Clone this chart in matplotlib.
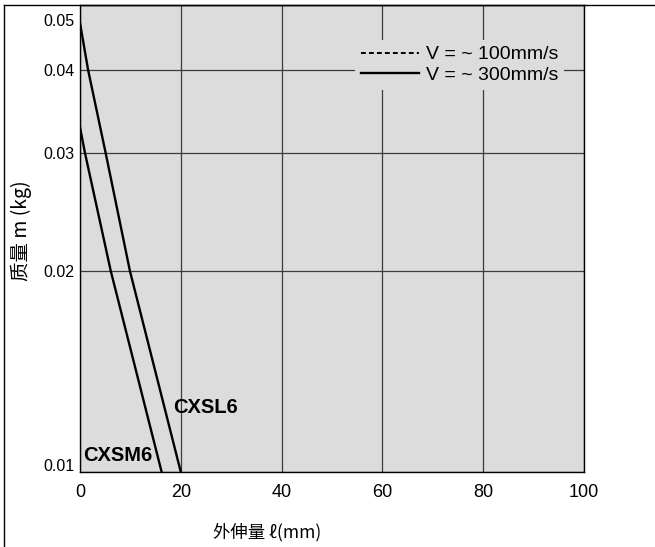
import matplotlib
matplotlib.use("Agg")
import matplotlib.pyplot as plt
import matplotlib.transforms as mtransforms
from matplotlib.lines import Line2D

plt.rcParams['font.family'] = ['Liberation Sans', 'Noto Sans CJK SC', 'DejaVu Sans']

# data
cxsl6_extension = [0, 1.6, 5.1, 9.9, 20.0]
cxsl6_mass = [0.047, 0.04, 0.03, 0.02, 0.01]
cxsm6_extension = [0, 1.0, 6.1, 16.2]
cxsm6_mass = [0.0328, 0.03, 0.02, 0.01]

y_ticks = [0.01, 0.02, 0.03, 0.04, 0.05]
y_tick_labels = ["0.01", "0.02", "0.03", "0.04", "0.05"]
x_ticks = [0, 20, 40, 60, 80, 100]
legend_labels = ["V = ~ 100mm/s", "V = ~ 300mm/s"]

bg_gray = "#dcdcdc"
grid_col = "#3c3c3c"

fig = plt.figure(figsize=(6.55, 5.47), dpi=100)
ax = fig.add_axes([80 / 655, 1 - 472 / 547, 504 / 655, 467 / 547])
ax.set_facecolor(bg_gray)

ax.plot(cxsl6_extension, cxsl6_mass, color="black", lw=1.7, zorder=3)
ax.plot(cxsm6_extension, cxsm6_mass, color="black", lw=1.7, zorder=3)

ax.set_yscale("log")
ax.set_xlim(0, 100)
ax.set_ylim(0.01, 0.05)
ax.set_yticks(y_ticks)
ax.set_yticklabels(y_tick_labels)
ax.minorticks_off()
ax.set_xticks(x_ticks)
ax.tick_params(axis="both", length=0)
ax.tick_params(axis="x", pad=8.5, labelsize=13)
ax.tick_params(axis="y", pad=4, labelsize=11.5)
ax.grid(True, color=grid_col, lw=0.9)
ax.set_axisbelow(True)
for s in ax.spines.values():
    s.set_color("black")
    s.set_linewidth(1.0)

# shift bottom and top y labels inside the axis range
labels = ax.get_yticklabels()
labels[0].set_transform(labels[0].get_transform() +
                        mtransforms.ScaledTranslation(0, 5 / 72, fig.dpi_scale_trans))
labels[-1].set_transform(labels[-1].get_transform() +
                         mtransforms.ScaledTranslation(0, -11 / 72, fig.dpi_scale_trans))

ax.text(18.4, 0.0125, "CXSL6", fontsize=14.5, fontweight="bold", va="center", ha="left")
ax.text(0.6, 0.01057, "CXSM6", fontsize=14.5, fontweight="bold", va="center", ha="left")

handles = [Line2D([], [], color="black", lw=1.4, ls=(0, (2.5, 1.6))),
           Line2D([], [], color="black", lw=1.7)]
leg = ax.legend(handles, legend_labels, loc="upper left", bbox_to_anchor=(0.545, 0.925),
                fontsize=14, frameon=True, facecolor=bg_gray, edgecolor="none",
                framealpha=1, fancybox=False, handlelength=3.0, handletextpad=0.35,
                borderpad=0.3, labelspacing=0.15, borderaxespad=0)
leg.set_zorder(4)

fig.text(267 / 655, 1 - 532 / 547, "外伸量 ℓ(mm)", fontsize=12.5, ha="center", va="center",
         family=['Noto Sans CJK SC', 'DejaVu Sans'])
fig.text(21 / 655, 1 - 231 / 547, "质量 m (kg)", fontsize=14, ha="center", va="center",
         rotation=90, family=['Noto Sans CJK SC', 'DejaVu Sans'])

# outer frame of the original figure (left and top edges)
fig.add_artist(Line2D([3.5 / 655, 3.5 / 655], [0, 1 - 5 / 547], color="black", lw=1.0,
                      transform=fig.transFigure))
fig.add_artist(Line2D([3.5 / 655, 1], [1 - 5 / 547, 1 - 5 / 547], color="black", lw=1.0,
                      transform=fig.transFigure))

fig.savefig("out.png", dpi=100)
